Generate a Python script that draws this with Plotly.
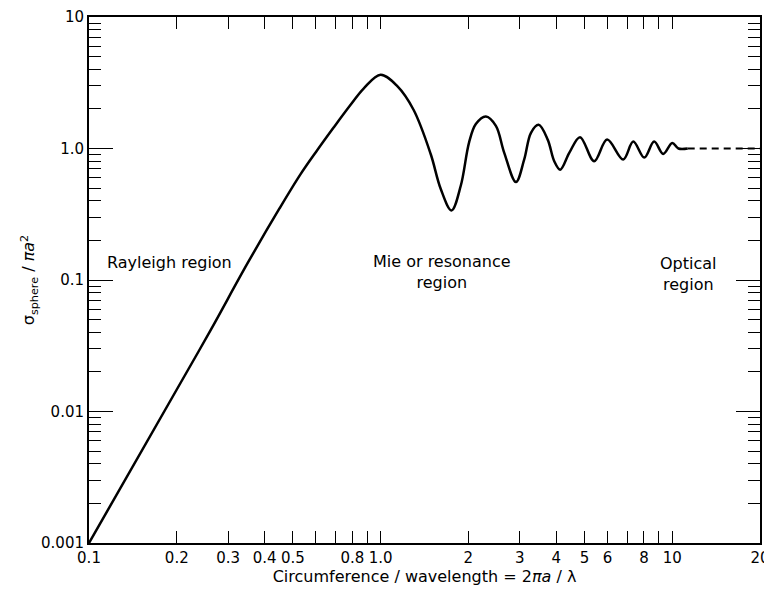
import plotly.graph_objects as go

# Normalised backscatter cross-section
ka = [0.1, 0.2, 0.261, 0.349, 0.45, 0.531, 0.606, 0.691, 0.789, 0.876, 1.0,
      1.141, 1.297, 1.485, 1.607, 1.750, 1.884, 2.011, 2.121, 2.296, 2.485, 2.653,
      2.912, 3.108, 3.278, 3.483, 3.741, 3.94, 4.13, 4.44, 4.83, 5.40, 5.98, 6.79,
      7.35, 8.02, 8.67, 9.31, 10.0, 10.5, 11.3]
sigma = [0.001, 0.0147, 0.0414, 0.133, 0.35, 0.636, 0.97, 1.45, 2.15, 2.87, 3.64,
         2.98, 1.97, 0.908, 0.494, 0.338, 0.523, 1.114, 1.534, 1.753, 1.487, 0.931,
         0.556, 0.826, 1.317, 1.513, 1.168, 0.80, 0.69, 0.93, 1.22, 0.80, 1.17, 0.825,
         1.13, 0.853, 1.13, 0.91, 1.10, 1.0, 1.0]

optical_x = [11.3, 20]
optical_y = [1.0, 1.0]

x_tickvals = [0.1, 0.2, 0.3, 0.4, 0.5, 0.8, 1.0, 2, 3, 4, 5, 6, 8, 10, 20]
x_ticktext = ["0.1", "0.2", "0.3", "0.4", "0.5", "0.8", "1.0",
              "2", "3", "4", "5", "6", "8", "10", "20"]
x_minor = [0.6, 0.7, 0.9, 7, 9]
y_tickvals = [0.001, 0.01, 0.1, 1.0, 10]
y_ticktext = ["0.001", "0.01", "0.1", "1.0", "10"]
y_minor = [m * 10 ** e for e in (-3, -2, -1, 0) for m in range(2, 10)]

FONT = "DejaVu Sans"

fig = go.Figure()
fig.add_trace(go.Scatter(x=ka, y=sigma, mode="lines",
                         line=dict(color="black", width=2.5, shape="spline", smoothing=1.0),
                         showlegend=False, hoverinfo="skip"))
fig.add_trace(go.Scatter(x=optical_x, y=optical_y, mode="lines",
                         line=dict(color="black", width=2, dash="7px,5px"),
                         showlegend=False, hoverinfo="skip"))

annotations = [
    dict(x=-0.945, y=-0.866, text="Rayleigh region", xanchor="left"),
    dict(x=0.212, y=-0.94, text="Mie or resonance<br>region", xanchor="center"),
    dict(x=1.055, y=-0.955, text="Optical<br>region", xanchor="center"),
]
for a in annotations:
    fig.add_annotation(x=a["x"], y=a["y"], xref="x", yref="y", text=a["text"],
                       showarrow=False, xanchor=a["xanchor"], yanchor="middle",
                       align="center", font=dict(family=FONT, size=16, color="black"))

# The page body adds an 8px margin, so the figure is sized to fit inside it.
fig.update_layout(
    width=764, height=581,
    margin=dict(l=81, r=12, t=9, b=46),
    paper_bgcolor="white", plot_bgcolor="white",
    font=dict(family=FONT, size=15, color="black"),
    xaxis=dict(type="log", range=[-1, 1.30103], tickmode="array",
               tickvals=x_tickvals, ticktext=x_ticktext, automargin=False,
               ticklabeloverflow="allow",
               ticks="inside", ticklen=12, tickwidth=1.3, tickcolor="black",
               minor=dict(tickmode="array", tickvals=x_minor, ticks="inside",
                          ticklen=12, tickwidth=1.3, tickcolor="black", showgrid=False),
               showline=True, linecolor="black", linewidth=2, mirror="ticks",
               showgrid=False, zeroline=False,
               title=dict(text="Circumference / wavelength = 2<i>πa</i> / λ",
                          font=dict(size=16), standoff=4)),
    yaxis=dict(type="log", range=[-3, 1], tickmode="array",
               tickvals=y_tickvals, ticktext=y_ticktext, automargin=False,
               ticklabeloverflow="allow",
               ticks="inside", ticklen=24, tickwidth=1.3, tickcolor="black",
               minor=dict(tickmode="array", tickvals=y_minor, ticks="inside",
                          ticklen=12, tickwidth=1.2, tickcolor="black", showgrid=False),
               showline=True, linecolor="black", linewidth=2, mirror="ticks",
               showgrid=False, zeroline=False,
               title=dict(text="σ<sub>sphere</sub> / <i>πa</i><sup>2</sup>",
                          font=dict(size=16), standoff=2)),
)

fig.write_html("out.html")
